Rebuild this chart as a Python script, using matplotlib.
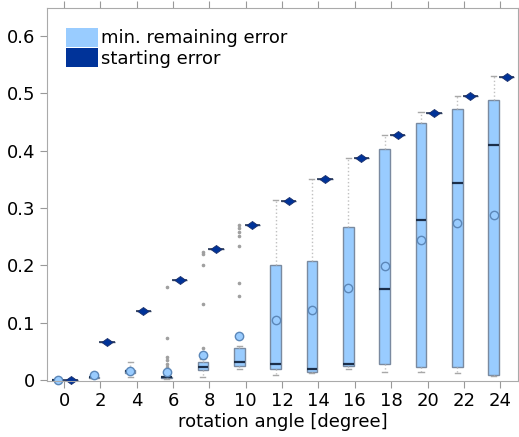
import matplotlib
matplotlib.use("Agg")
import matplotlib.pyplot as plt
from matplotlib.patches import Patch

angles = [0, 2, 4, 6, 8, 10, 12, 14, 16, 18, 20, 22, 24]

# starting error (one value per angle)
start_err = [0.0, 0.066, 0.121, 0.175, 0.229, 0.270, 0.313, 0.350, 0.388, 0.428, 0.466, 0.496, 0.529]

# min. remaining error box stats
q1 = [0.0, 0.004, 0.013, 0.003, 0.018, 0.025, 0.019, 0.014, 0.024, 0.028, 0.023, 0.023, 0.009]
med = [0.0, 0.005, 0.015, 0.005, 0.023, 0.031, 0.028, 0.019, 0.028, 0.159, 0.279, 0.344, 0.410]
q3 = [0.0, 0.006, 0.018, 0.006, 0.032, 0.056, 0.200, 0.207, 0.267, 0.403, 0.449, 0.472, 0.488]
whislo = [0.0, 0.003, 0.005, 0.002, 0.005, 0.019, 0.009, 0.012, 0.019, 0.014, 0.014, 0.012, 0.007]
whishi = [0.0, 0.008, 0.031, 0.008, 0.036, 0.060, 0.314, 0.351, 0.388, 0.428, 0.467, 0.496, 0.530]
mean = [0.0, 0.008, 0.016, 0.014, 0.044, 0.077, 0.105, 0.123, 0.161, 0.199, 0.244, 0.274, 0.288]
fliers = [[], [], [], [0.163, 0.074, 0.040, 0.035, 0.028, 0.023],
          [0.223, 0.219, 0.200, 0.133, 0.056],
          [0.270, 0.265, 0.258, 0.251, 0.234, 0.170, 0.147],
          [], [], [], [], [], [], []]

light = "#99ccff"
dark = "#003399"

fig = plt.figure(figsize=(5.19, 4.37), dpi=100)
ax = fig.add_axes([47 / 519, 1 - 381 / 437, 471 / 519, 373 / 437])

idx = list(range(len(angles)))

stats_min = []
stats_start = []
for i in idx:
    stats_min.append(dict(med=med[i], q1=q1[i], q3=q3[i], whislo=whislo[i],
                          whishi=whishi[i], mean=mean[i], fliers=fliers[i]))
    s = start_err[i]
    stats_start.append(dict(med=s, q1=s, q3=s, whislo=s, whishi=s, mean=s, fliers=[]))

ax.bxp(stats_min, positions=[i - 0.18 for i in idx], widths=0.29,
       patch_artist=True, showmeans=True, capwidths=0.14, manage_ticks=False,
       boxprops=dict(facecolor=light, edgecolor="#7a8aa0", linewidth=1.0),
       medianprops=dict(color="#1c2f4a", linewidth=1.6),
       whiskerprops=dict(color="#c0c0c0", linestyle=":", linewidth=1.0),
       capprops=dict(color="#a8a8a8", linewidth=1.0),
       flierprops=dict(marker="o", markersize=1.6, markerfacecolor="#a0a0a0",
                       markeredgecolor="#a0a0a0"),
       meanprops=dict(marker="o", markersize=6, markerfacecolor=light,
                      markeredgecolor="#5b87b8", markeredgewidth=1.0))

diamond = [(-1, 0), (0, 0.72), (1, 0), (0, -0.72), (-1, 0)]
ax.bxp(stats_start, positions=[i + 0.18 for i in idx], widths=0.42,
       patch_artist=True, showmeans=True, capwidths=0.14, manage_ticks=False,
       boxprops=dict(facecolor=dark, edgecolor="#4a5a78", linewidth=1.0),
       medianprops=dict(color="#2a3a5a", linewidth=1.2),
       whiskerprops=dict(color="#b8b8b8", linestyle=":", linewidth=1.0),
       capprops=dict(color="#a0a0a0", linewidth=1.0),
       meanprops=dict(marker=diamond, markersize=8, markerfacecolor=dark,
                      markeredgecolor="#1a2f6a", markeredgewidth=0.6))

for art in ax.lines:
    art.set_clip_on(False)

ax.set_xlim(-0.47, 12.49)
ax.set_ylim(-0.0017, 0.649)
ax.set_xticks(idx)
ax.set_xticklabels([str(a) for a in angles])
ax.set_yticks([0, 0.1, 0.2, 0.3, 0.4, 0.5, 0.6])
ax.set_yticklabels(["0", "0.1", "0.2", "0.3", "0.4", "0.5", "0.6"])
ax.tick_params(axis="both", labelsize=13, color="#999999", length=5, direction="out")
ax.tick_params(axis="x", top=True, labeltop=False, pad=3)
for sp in ax.spines.values():
    sp.set_color("#aaaaaa")
ax.set_xlabel("rotation angle [degree]", fontsize=13, labelpad=2)

handles = [Patch(facecolor=light, edgecolor="none", label="min. remaining error"),
           Patch(facecolor=dark, edgecolor="none", label="starting error")]
ax.legend(handles=handles, loc="upper left", bbox_to_anchor=(19 / 471, 1 - 20 / 373),
          frameon=False, fontsize=13, borderpad=0, handlelength=1.75,
          handleheight=1.2, handletextpad=0.2, labelspacing=0.05, borderaxespad=0)

fig.savefig("out.png", dpi=100)
